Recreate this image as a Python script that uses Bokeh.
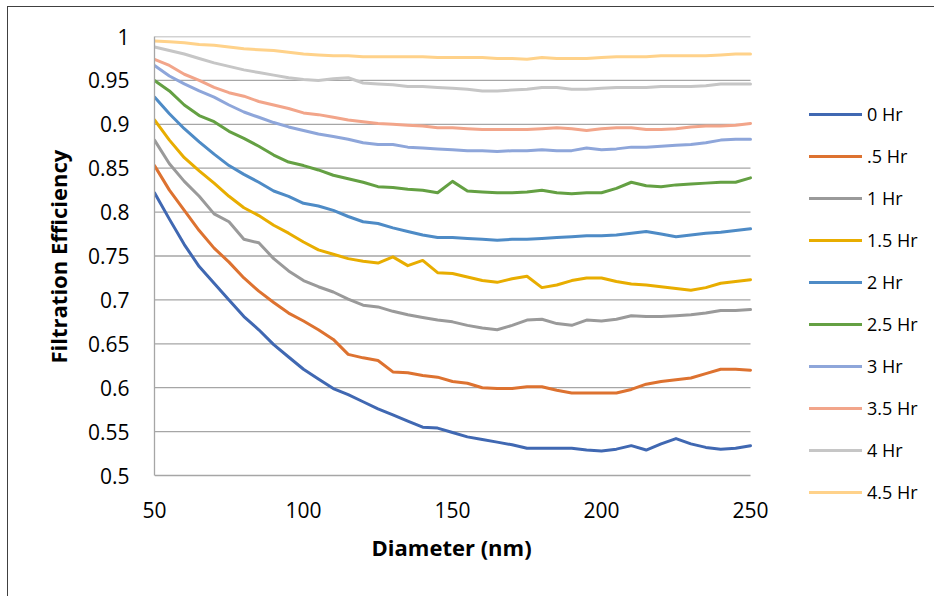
from bokeh.plotting import figure
from bokeh.models import Range1d, FixedTicker, Legend, LegendItem, Title
from bokeh.embed import file_html
from bokeh.resources import INLINE

diameter = [50, 55, 60, 65, 70, 75, 80, 85, 90, 95, 100,
            105, 110, 115, 120, 125, 130, 135, 140, 145, 150,
            155, 160, 165, 170, 175, 180, 185, 190, 195, 200,
            205, 210, 215, 220, 225, 230, 235, 240, 245, 250]

hr0 = [0.822, 0.792, 0.763, 0.738, 0.719, 0.700, 0.681, 0.666, 0.649, 0.635, 0.621,
       0.610, 0.599, 0.592, 0.584, 0.576, 0.569, 0.562, 0.555, 0.554, 0.549,
       0.544, 0.541, 0.538, 0.535, 0.531, 0.531, 0.531, 0.531, 0.529, 0.528,
       0.530, 0.534, 0.529, 0.536, 0.542, 0.536, 0.532, 0.530, 0.531, 0.534]
hr05 = [0.853, 0.825, 0.802, 0.779, 0.759, 0.743, 0.725, 0.710, 0.697, 0.685, 0.676,
        0.666, 0.655, 0.638, 0.634, 0.631, 0.618, 0.617, 0.614, 0.612, 0.607,
        0.605, 0.600, 0.599, 0.599, 0.601, 0.601, 0.597, 0.594, 0.594, 0.594,
        0.594, 0.598, 0.604, 0.607, 0.609, 0.611, 0.616, 0.621, 0.621, 0.620]
hr1 = [0.882, 0.855, 0.835, 0.818, 0.798, 0.789, 0.769, 0.765, 0.747, 0.733, 0.722,
       0.715, 0.709, 0.701, 0.694, 0.692, 0.687, 0.683, 0.680, 0.677, 0.675,
       0.671, 0.668, 0.666, 0.671, 0.677, 0.678, 0.673, 0.671, 0.677, 0.676,
       0.678, 0.682, 0.681, 0.681, 0.682, 0.683, 0.685, 0.688, 0.688, 0.689]
hr15 = [0.905, 0.882, 0.862, 0.847, 0.833, 0.818, 0.805, 0.796, 0.785, 0.776, 0.766,
        0.757, 0.752, 0.747, 0.744, 0.742, 0.749, 0.739, 0.745, 0.731, 0.730,
        0.726, 0.722, 0.720, 0.724, 0.727, 0.714, 0.717, 0.722, 0.725, 0.725,
        0.721, 0.718, 0.717, 0.715, 0.713, 0.711, 0.714, 0.719, 0.721, 0.723]
hr2 = [0.931, 0.912, 0.895, 0.880, 0.866, 0.853, 0.843, 0.834, 0.824, 0.818, 0.810,
       0.807, 0.802, 0.795, 0.789, 0.787, 0.782, 0.778, 0.774, 0.771, 0.771,
       0.770, 0.769, 0.768, 0.769, 0.769, 0.770, 0.771, 0.772, 0.773, 0.773,
       0.774, 0.776, 0.778, 0.775, 0.772, 0.774, 0.776, 0.777, 0.779, 0.781]
hr25 = [0.950, 0.938, 0.922, 0.910, 0.903, 0.892, 0.884, 0.875, 0.865, 0.857, 0.853,
        0.848, 0.842, 0.838, 0.834, 0.829, 0.828, 0.826, 0.825, 0.822, 0.835,
        0.824, 0.823, 0.822, 0.822, 0.823, 0.825, 0.822, 0.821, 0.822, 0.822,
        0.827, 0.834, 0.830, 0.829, 0.831, 0.832, 0.833, 0.834, 0.834, 0.839]
hr3 = [0.967, 0.955, 0.946, 0.938, 0.931, 0.922, 0.914, 0.908, 0.902, 0.897, 0.893,
       0.889, 0.886, 0.883, 0.879, 0.877, 0.877, 0.874, 0.873, 0.872, 0.871,
       0.870, 0.870, 0.869, 0.870, 0.870, 0.871, 0.870, 0.870, 0.873, 0.871,
       0.872, 0.874, 0.874, 0.875, 0.876, 0.877, 0.879, 0.882, 0.883, 0.883]
hr35 = [0.974, 0.967, 0.957, 0.950, 0.942, 0.936, 0.932, 0.926, 0.922, 0.918, 0.913,
        0.911, 0.908, 0.905, 0.903, 0.901, 0.900, 0.899, 0.898, 0.896, 0.896,
        0.895, 0.894, 0.894, 0.894, 0.894, 0.895, 0.896, 0.895, 0.893, 0.895,
        0.896, 0.896, 0.894, 0.894, 0.895, 0.897, 0.898, 0.898, 0.899, 0.901]
hr4 = [0.988, 0.984, 0.980, 0.975, 0.970, 0.966, 0.962, 0.959, 0.956, 0.953, 0.951,
       0.950, 0.952, 0.953, 0.947, 0.946, 0.945, 0.943, 0.943, 0.942, 0.941,
       0.940, 0.938, 0.938, 0.939, 0.940, 0.942, 0.942, 0.940, 0.940, 0.941,
       0.942, 0.942, 0.942, 0.943, 0.943, 0.943, 0.944, 0.946, 0.946, 0.946]
hr45 = [0.995, 0.994, 0.993, 0.991, 0.990, 0.988, 0.986, 0.985, 0.984, 0.982, 0.980,
        0.979, 0.978, 0.978, 0.977, 0.977, 0.977, 0.977, 0.977, 0.976, 0.976,
        0.976, 0.976, 0.975, 0.975, 0.974, 0.976, 0.975, 0.975, 0.975, 0.976,
        0.977, 0.977, 0.977, 0.978, 0.978, 0.978, 0.978, 0.979, 0.980, 0.980]

series_names = ["0 Hr", ".5 Hr", "1 Hr", "1.5 Hr", "2 Hr", "2.5 Hr", "3 Hr", "3.5 Hr", "4 Hr", "4.5 Hr"]
series_values = [hr0, hr05, hr1, hr15, hr2, hr25, hr3, hr35, hr4, hr45]
series_colors = ["#4068B2", "#DD7230", "#9A9A9A", "#E8AD00", "#4E8BC6",
                 "#64A043", "#8EA6DA", "#F2A58A", "#C6C6C6", "#FFD28A"]

x_ticks = [50, 100, 150, 200, 250]
y_ticks = [0.5, 0.55, 0.6, 0.65, 0.7, 0.75, 0.8, 0.85, 0.9, 0.95, 1.0]
y_labels = ["0.5", "0.55", "0.6", "0.65", "0.7", "0.75", "0.8", "0.85", "0.9", "0.95", "1"]
x_title = "Diameter (nm)"
y_title = "Filtration Efficiency"

FONT = "Open Sans"

# canvas / frame geometry (pixels)
W, H = 927, 590
LEFT, TOP, BOTTOM = 146, 29, 90
FRAME_W = W - LEFT
FRAME_H = H - TOP - BOTTOM
PLOT_W, PLOT_H = 596, 439          # pixel size of the 50-250 x 0.5-1 data area
x_lo, x_hi = x_ticks[0], x_ticks[-1]
y_lo, y_hi = y_ticks[0], y_ticks[-1]
x_end = x_lo + (x_hi - x_lo) * FRAME_W / PLOT_W
y_start = y_hi - (y_hi - y_lo) * FRAME_H / PLOT_H

p = figure(width=W, height=H, x_range=Range1d(x_lo, x_end), y_range=Range1d(y_start, y_hi),
           output_backend="svg", toolbar_location=None,
           min_border_left=LEFT, min_border_right=0, min_border_top=TOP, min_border_bottom=BOTTOM)
p.styles = {"margin-left": "7px", "margin-top": "6px",
            "border-left": "1px solid #404040", "border-top": "1px solid #404040"}
p.outline_line_color = None
p.background_fill_color = "white"
p.border_fill_color = "white"
p.grid.visible = False

# horizontal gridlines limited to the data area (the 0.5 line doubles as the x axis line)
p.segment(x0=[x_lo] * len(y_ticks), x1=[x_hi] * len(y_ticks), y0=y_ticks, y1=y_ticks,
          line_color="#A6A6A6", line_width=1.3)

p.xaxis.ticker = FixedTicker(ticks=x_ticks)
p.yaxis.ticker = FixedTicker(ticks=y_ticks)
p.yaxis.major_label_overrides = dict(zip(y_ticks, y_labels))
p.xaxis.bounds = (x_lo, x_hi)
p.yaxis.bounds = (y_lo, y_hi)

for ax in (p.xaxis, p.yaxis):
    ax.axis_line_color = "#A6A6A6"
    ax.axis_line_width = 1.3
    ax.major_tick_line_color = None
    ax.minor_tick_line_color = None
    ax.major_tick_out = 0
    ax.major_tick_in = 0
    ax.major_label_text_font = FONT
    ax.major_label_text_font_size = "21px"
    ax.major_label_text_color = "black"

p.xaxis.axis_line_color = None
p.yaxis.major_label_standoff = 25
p.xaxis.major_label_standoff = -6

# axis titles as panel titles so they can be centred on the data area
t_x = Title(text=x_title, align="left", offset=217, vertical_align="top", standoff=22,
            text_font=FONT, text_font_size="22px", text_font_style="bold", text_color="black")
p.add_layout(t_x, "below")
t_y = Title(text=y_title, align="left", offset=144, standoff=24,
            text_font=FONT, text_font_size="22px", text_font_style="bold", text_color="black")
p.add_layout(t_y, "left")

items = []
for name, vals, col in zip(series_names, series_values, series_colors):
    r = p.line(diameter, vals, line_color=col, line_width=3, line_cap="round", line_join="round")
    items.append(LegendItem(label=name, renderers=[r]))

legend = Legend(items=items, location=(655, 3), glyph_width=53, glyph_height=24,
                label_height=24, spacing=18, padding=0, margin=0, label_standoff=5,
                border_line_color=None, background_fill_alpha=0,
                label_text_font=FONT, label_text_font_size="18px", label_text_color="black")
p.add_layout(legend)

open("out.html", "w").write(file_html(p, INLINE))
